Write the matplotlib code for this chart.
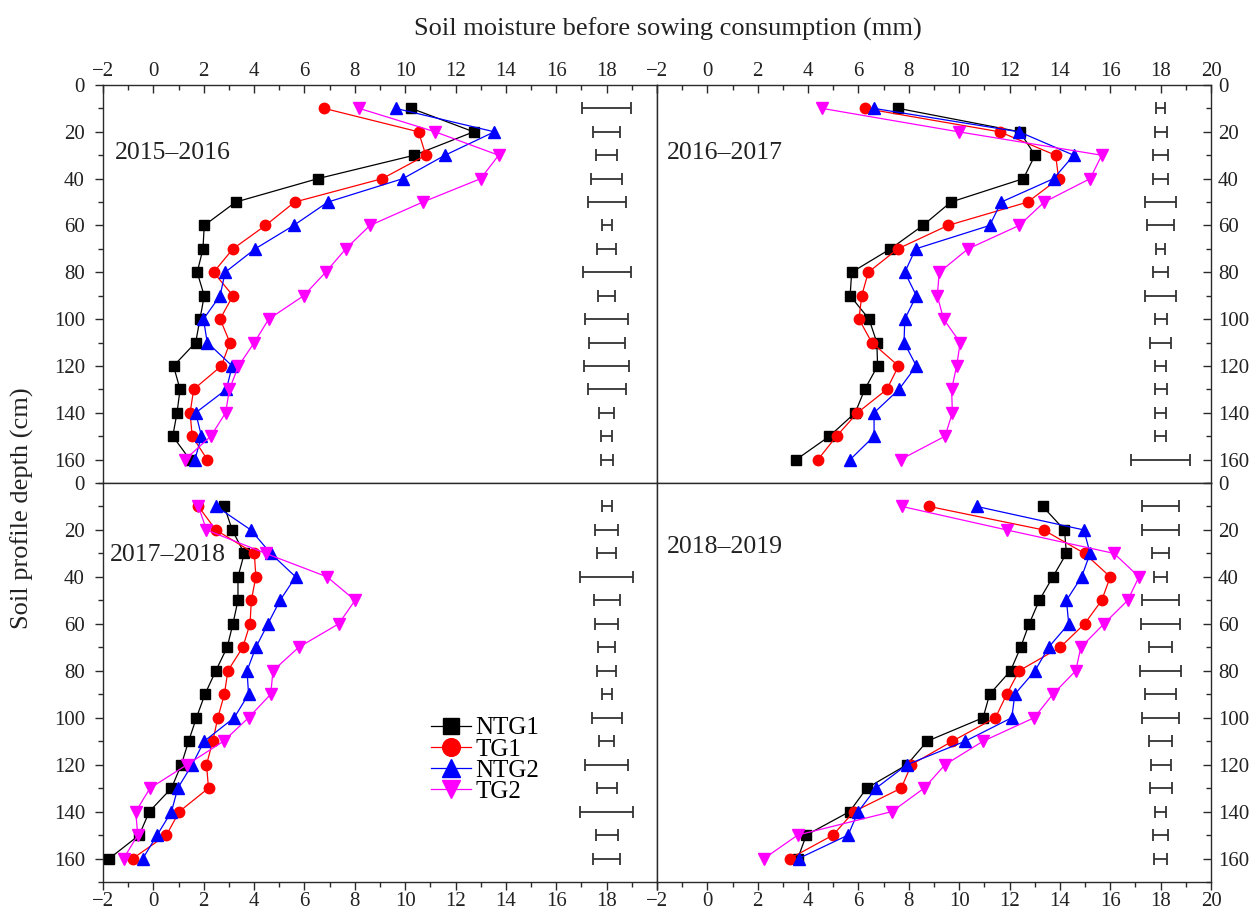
import numpy as np
import matplotlib
matplotlib.use("Agg")
import matplotlib.pyplot as plt
from matplotlib.ticker import MultipleLocator, FuncFormatter

plt.rcParams["font.family"] = ["Liberation Serif", "DejaVu Serif"]

depth = [10, 20, 30, 40, 50, 60, 70, 80, 90, 100, 110, 120, 130, 140, 150, 160]

# 2015-2016
ntg1_1516 = [10.25, 12.72, 10.36, 6.53, 3.27, 2.02, 1.97, 1.74, 2.02, 1.85, 1.68, 0.80, 1.06, 0.94, 0.77, 1.45]
tg1_1516 = [6.79, 10.53, 10.82, 9.09, 5.61, 4.45, 3.16, 2.39, 3.16, 2.65, 3.04, 2.70, 1.60, 1.46, 1.54, 2.14]
ntg2_1516 = [9.63, 13.54, 11.58, 9.91, 6.93, 5.57, 4.04, 2.85, 2.65, 1.99, 2.14, 3.13, 2.90, 1.68, 1.91, 1.65]
tg2_1516 = [8.18, 11.19, 13.71, 13.00, 10.70, 8.60, 7.64, 6.84, 5.97, 4.58, 4.01, 3.38, 3.02, 2.87, 2.28, 1.26]
err_1516 = [0.98, 0.55, 0.43, 0.61, 0.75, 0.20, 0.37, 0.95, 0.35, 0.84, 0.71, 0.89, 0.75, 0.30, 0.23, 0.24]

# 2016-2017
ntg1_1617 = [7.59, 12.41, 13.01, 12.55, 9.67, 8.56, 7.27, 5.73, 5.67, 6.42, 6.73, 6.76, 6.25, 5.87, 4.85, 3.53]
tg1_1617 = [6.25, 11.61, 13.83, 13.95, 12.72, 9.55, 7.56, 6.39, 6.13, 6.02, 6.53, 7.59, 7.13, 5.96, 5.13, 4.39]
ntg2_1617 = [6.62, 12.38, 14.55, 13.75, 11.67, 11.21, 8.27, 7.84, 8.30, 7.84, 7.81, 8.30, 7.61, 6.62, 6.62, 5.67]
tg2_1617 = [4.56, 9.98, 15.66, 15.20, 13.38, 12.38, 10.35, 9.21, 9.13, 9.38, 10.04, 9.90, 9.70, 9.73, 9.44, 7.67]
err_1617 = [0.19, 0.24, 0.30, 0.29, 0.61, 0.54, 0.19, 0.29, 0.61, 0.24, 0.41, 0.23, 0.24, 0.23, 0.21, 1.17]

# 2017-2018
ntg1_1718 = [2.82, 3.13, 3.61, 3.36, 3.36, 3.16, 2.93, 2.48, 2.05, 1.71, 1.40, 1.11, 0.72, -0.16, -0.56, -1.75]
tg1_1718 = [1.79, 2.48, 4.01, 4.07, 3.89, 3.84, 3.55, 2.96, 2.82, 2.56, 2.36, 2.11, 2.19, 1.03, 0.52, -0.82]
ntg2_1718 = [2.50, 3.87, 4.66, 5.65, 5.03, 4.55, 4.07, 3.72, 3.78, 3.21, 2.02, 1.54, 0.97, 0.72, 0.15, -0.42]
tg2_1718 = [1.79, 2.11, 4.46, 6.90, 8.01, 7.36, 5.77, 4.75, 4.66, 3.78, 2.79, 1.34, -0.13, -0.70, -0.62, -1.18]
err_1718 = [0.20, 0.45, 0.38, 1.05, 0.52, 0.47, 0.33, 0.37, 0.20, 0.60, 0.30, 0.85, 0.40, 1.05, 0.44, 0.55]

# 2018-2019
ntg1_1819 = [13.32, 14.18, 14.26, 13.72, 13.18, 12.78, 12.44, 12.04, 11.21, 10.95, 8.73, 7.93, 6.33, 5.65, 3.93, 3.59]
tg1_1819 = [8.81, 13.35, 14.98, 16.00, 15.66, 14.98, 14.01, 12.38, 11.89, 11.44, 9.73, 8.10, 7.70, 5.82, 4.99, 3.28]
ntg2_1819 = [10.70, 14.95, 15.20, 14.86, 14.26, 14.35, 13.55, 13.01, 12.21, 12.09, 10.24, 7.93, 6.70, 5.99, 5.59, 3.62]
tg2_1819 = [7.73, 11.89, 16.15, 17.14, 16.69, 15.75, 14.83, 14.63, 13.72, 12.98, 10.95, 9.44, 8.61, 7.33, 3.59, 2.25]
err_1819 = [0.73, 0.73, 0.34, 0.26, 0.73, 0.77, 0.47, 0.81, 0.61, 0.74, 0.46, 0.40, 0.44, 0.21, 0.29, 0.27]

seasons = ["2015\u20132016", "2016\u20132017", "2017\u20132018", "2018\u20132019"]
series_names = ["NTG1", "TG1", "NTG2", "TG2"]
err_center = 18

panels = [
    (ntg1_1516, tg1_1516, ntg2_1516, tg2_1516, err_1516),
    (ntg1_1617, tg1_1617, ntg2_1617, tg2_1617, err_1617),
    (ntg1_1718, tg1_1718, ntg2_1718, tg2_1718, err_1718),
    (ntg1_1819, tg1_1819, ntg2_1819, tg2_1819, err_1819),
]

colors = ["black", "#ff0000", "#0000ff", "#ff00ff"]
markers = ["s", "o", "^", "v"]
msizes = [7, 7.5, 8, 8]

W, H = 1258, 915
fig = plt.figure(figsize=(W / 100, H / 100), dpi=100)

x0, x1, x2 = 103, 657, 1211
y0, y1, y2 = 85, 483, 882
boxes = [
    (x0, y0, x1, y1), (x1, y0, x2, y1),
    (x0, y1, x1, y2), (x1, y1, x2, y2),
]
label_pos = [(0.022, 0.83), (0.018, 0.83), (0.012, 0.82), (0.018, 0.84)]

axc = "#2a2a2a"

for i, (ax_box, data) in enumerate(zip(boxes, panels)):
    l, t, r, b = ax_box
    ax = fig.add_axes([l / W, 1 - b / H, (r - l) / W, (b - t) / H])
    top = i < 2
    left = i % 2 == 0

    for k in range(4):
        ax.plot(data[k], depth, color=colors[k], marker=markers[k], ms=msizes[k],
                lw=0.9, label=series_names[k], zorder=3)
    ax.errorbar([err_center] * len(depth), depth, xerr=data[4], fmt="none",
                ecolor="#333333", elinewidth=1.3, capsize=4.5, capthick=1.3)

    ax.set_xlim(-2, 20)
    ax.set_ylim(170, 0)
    ax.xaxis.set_major_locator(MultipleLocator(2))
    ax.xaxis.set_minor_locator(MultipleLocator(1))
    ax.yaxis.set_major_locator(MultipleLocator(20))
    ax.yaxis.set_minor_locator(MultipleLocator(10))

    def xfmt(v, pos, left=left):
        if left and abs(v - 20) < 1e-6:
            return ""
        return f"{v:g}".replace("-", "\u2212")
    ax.xaxis.set_major_formatter(FuncFormatter(xfmt))

    for s in ax.spines.values():
        s.set_color(axc)
        s.set_linewidth(1.0)

    ax.tick_params(which="both", colors=axc, labelcolor="#222222", labelsize=15,
                   top=False, bottom=False, left=False, right=False,
                   labeltop=False, labelbottom=False, labelleft=False, labelright=False)
    ax.tick_params(which="major", length=6, width=1.0)
    ax.tick_params(which="minor", length=3.5, width=1.0)
    if top:
        ax.tick_params(axis="x", which="both", top=True, labeltop=True, direction="in", pad=3)
    else:
        ax.tick_params(axis="x", which="both", bottom=True, labelbottom=True, direction="out", pad=1)
    if left:
        ax.tick_params(axis="y", which="both", left=True, labelleft=True, direction="out", pad=7)
    else:
        ax.tick_params(axis="y", which="both", right=True, labelright=True, direction="in", pad=5)

    ax.text(label_pos[i][0], label_pos[i][1], seasons[i], transform=ax.transAxes,
            fontsize=18.5, color="#222222", ha="left", va="center")

    if i == 2:
        ax.legend(loc="upper left", bbox_to_anchor=(0.57, 0.445), frameon=False,
                  fontsize=18, markerscale=1.7, handlelength=1.6, handletextpad=0.15,
                  labelspacing=-0.05, borderpad=0.0)

fig.text(668 / W, 1 - 29 / H, "Soil moisture before sowing consumption (mm)",
         ha="center", va="center", fontsize=19, color="#222222")
fig.text(22 / W, 1 - 508 / H, "Soil profile depth (cm)", rotation=90,
         ha="center", va="center", fontsize=19, color="#222222")

fig.savefig("out.png", dpi=100)
